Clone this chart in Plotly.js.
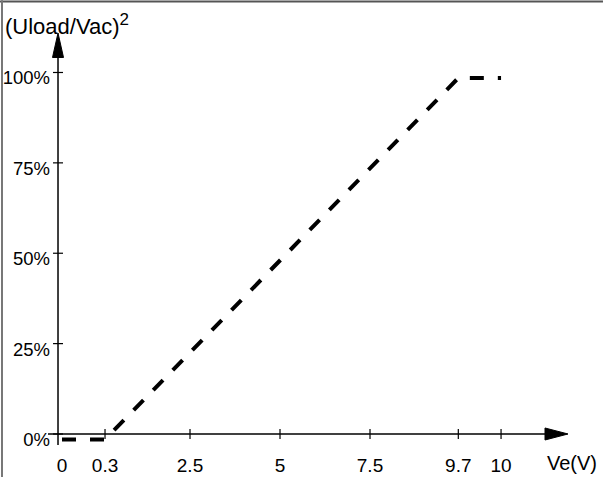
<!DOCTYPE html>
<html><head><meta charset="utf-8">
<script src="https://cdn.plot.ly/plotly-3.0.1.min.js"></script>
<style>html,body{margin:0;padding:0;background:#fff}</style>
</head><body><div id="chart" style="width:603px;height:477px"></div>
<script>
// ---- data ----
const ve = [0, 0.3, 9.7, 10];
const loadRatio = [0, 0, 100, 100];
const xTickValues = [0, 0.3, 2.5, 5, 7.5, 9.7, 10];
const xTickLabels = ['0', '0.3', '2.5', '5', '7.5', '9.7', '10'];
const yTickValues = [0, 25, 50, 75, 100];
const yTickLabels = ['0%', '25%', '50%', '75%', '100%'];
const yTitle = '(Uload/Vac)<sup><span style="font-size:17px">2</span></sup>';
const xTitle = 'Ve(V)';

// ---- schematic (non-uniform) horizontal scale of the drawing ----
const knotValue = [0, 0.3, 2.5, 7.5, 9.7, 10];
const knotPlace = [-1.056, 0.139, 2.5, 7.5, 9.953, 11.14];
function place(v) {
  for (let i = 0; i < knotValue.length - 1; i++) {
    if (v <= knotValue[i + 1] || i === knotValue.length - 2) {
      const t = (v - knotValue[i]) / (knotValue[i + 1] - knotValue[i]);
      return knotPlace[i] + t * (knotPlace[i + 1] - knotPlace[i]);
    }
  }
}
const originX = -1.1667;   // where the vertical axis stands
const axisLift = 5.5;      // axis drawn slightly above the 0 level (px)
const font = 'Liberation Sans, Arial, sans-serif';

const shapes = [];
// y axis line + arrow
shapes.push({type: 'line', xref: 'x', yref: 'y', xsizemode: 'pixel', ysizemode: 'pixel',
  xanchor: originX, yanchor: 0, x0: 0, x1: 0, y0: -5.5, y1: 385, line: {color: '#000', width: 1.5}});
shapes.push({type: 'path', xref: 'x', yref: 'y', xsizemode: 'pixel', ysizemode: 'pixel',
  xanchor: originX, yanchor: 0, path: 'M0,406.5 L-5.5,382 L5.5,382 Z',
  fillcolor: '#000', line: {color: '#000', width: 1}});
// x axis line + arrow
shapes.push({type: 'line', xref: 'x', yref: 'y', xsizemode: 'pixel', ysizemode: 'pixel',
  xanchor: originX, yanchor: 0, x0: -10, x1: 490, y0: axisLift, y1: axisLift, line: {color: '#000', width: 1.5}});
shapes.push({type: 'path', xref: 'x', yref: 'y', xsizemode: 'pixel', ysizemode: 'pixel',
  xanchor: originX, yanchor: 0, path: 'M510,5.5 L487,11.5 L487,-0.5 Z',
  fillcolor: '#000', line: {color: '#000', width: 1}});
// x ticks
xTickValues.forEach(v => {
  if (v === 0) return;
  shapes.push({type: 'line', xref: 'x', yref: 'y', xsizemode: 'pixel', ysizemode: 'pixel',
    xanchor: place(v), yanchor: 0, x0: 0, x1: 0, y0: axisLift - 5, y1: axisLift + 5,
    line: {color: '#000', width: 1.2}});
});
// y ticks
yTickValues.forEach(v => {
  shapes.push({type: 'line', xref: 'x', yref: 'y', xsizemode: 'pixel', ysizemode: 'pixel',
    xanchor: originX, yanchor: v, x0: -5, x1: 5, y0: axisLift, y1: axisLift,
    line: {color: '#000', width: 1.2}});
});
// frame (top and left edges)
shapes.push({type: 'line', xref: 'paper', yref: 'paper', x0: -0.0727, x1: 1.0236, y0: 1.0428, y1: 1.0428,
  line: {color: '#555', width: 2}});
shapes.push({type: 'line', xref: 'paper', yref: 'paper', x0: -0.0691, x1: -0.0691, y0: 1.046, y1: -0.07,
  line: {color: '#777', width: 2}});

const trace = {
  x: ve.map(place), y: loadRatio, type: 'scatter', mode: 'lines',
  line: {color: '#000', width: 4, dash: '14px,14px'},
  cliponaxis: false, hoverinfo: 'skip'
};

const layout = {
  width: 603, height: 477,
  margin: {l: 40, r: 13, t: 20, b: 25},
  paper_bgcolor: '#fff', plot_bgcolor: '#fff',
  showlegend: false,
  font: {family: font, size: 19, color: '#000'},
  xaxis: {range: [-1.667, 13.611], tickvals: xTickValues.map(place), ticktext: xTickLabels,
    showgrid: false, zeroline: false, showline: false, ticks: '',
    tickfont: {family: font, size: 19, color: '#000'}},
  yaxis: {range: [-3.46, 116.04], tickvals: yTickValues, ticktext: yTickLabels,
    anchor: 'free', position: 0.0327, ticklabelstandoff: 8,
    showgrid: false, zeroline: false, showline: false, ticks: '',
    tickfont: {family: font, size: 18.5, color: '#000'}},
  shapes: shapes,
  annotations: [
    {text: yTitle, xref: 'paper', yref: 'paper', x: -0.0673, y: 0.99, xanchor: 'left', yanchor: 'middle',
      showarrow: false, font: {family: font, size: 22, color: '#000'}},
    {text: xTitle, xref: 'paper', yref: 'paper', x: 0.968, y: -0.0255, xanchor: 'center', yanchor: 'middle',
      showarrow: false, font: {family: font, size: 20, color: '#000'}}
  ]
};

Plotly.newPlot('chart', [trace], layout, {displayModeBar: false, staticPlot: true});
</script></body></html>
